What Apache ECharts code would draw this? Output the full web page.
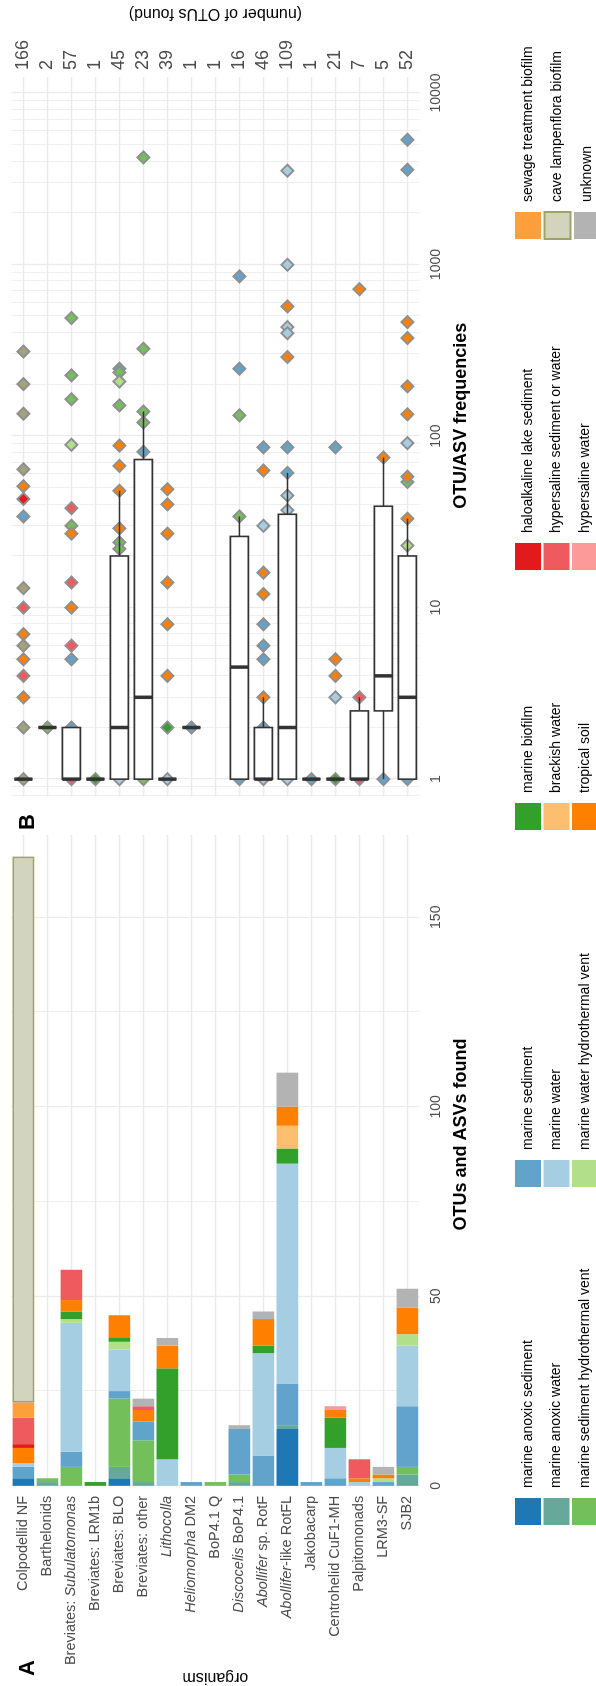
<!DOCTYPE html>
<html>
<head>
<meta charset="utf-8">
<script src="https://cdn.jsdelivr.net/npm/echarts@6/dist/echarts.min.js"></script>
<style>
  html, body { margin: 0; padding: 0; background: #fff; overflow: hidden; }
  #wrap { position: absolute; left: 0; top: 0; width: 596px; height: 1686px; overflow: hidden; }
  /* chart is laid out landscape, then turned a quarter to the left */
  #chart { position: absolute; left: 0; top: 0; width: 1686px; height: 596px;
           transform-origin: 0 0; transform: translate(0, 1686px) rotate(-90deg); }
</style>
</head>
<body>
<div id="wrap"><div id="chart"></div></div>
<script>
const organisms = [
  "Colpodellid NF", "Barthelonids", "Breviates: Subulatomonas", "Breviates: LRM1b",
  "Breviates: BLO", "Breviates: other", "Lithocolla", "Heliomorpha DM2", "BoP4.1 Q",
  "Discocelis BoP4.1", "Abollifer sp. RotF", "Abollifer-like RotFL", "Jakobacarp",
  "Centrohelid CuF1-MH", "Palpitomonads", "LRM3-SF", "SJB2"
];
const italicWords = ["Subulatomonas", "Lithocolla", "Heliomorpha", "Discocelis", "Abollifer"];
const otuLabels = ["166", "2", "57", "1", "45", "23", "39", "1", "1", "16", "46", "109", "1", "21", "7", "5", "52"];

const habitats = [
  "marine anoxic sediment", "marine anoxic water", "marine sediment hydrothermal vent",
  "marine sediment", "marine water", "marine water hydrothermal vent",
  "marine biofilm", "brackish water", "tropical soil",
  "haloalkaline lake sediment", "hypersaline sediment or water", "hypersaline water",
  "sewage treatment biofilm", "cave lampenflora biofilm", "unknown"
];
const habitatColors = [
  "#1f78b4", "#66a99a", "#73bf5b", "#62a3cb", "#a6cee3", "#b2df8a",
  "#33a02c", "#fdbf6f", "#ff7f00", "#e31a1c", "#ef5a5e", "#fb9a99",
  "#fd9f3b", "#d3d4bd", "#b3b3b3"
];

// OTUs per habitat, one value per organism (panel A)
const anoxicSediment   = [2, 0, 0, 0, 2, 0, 0, 0, 0, 0, 0, 15, 0, 0, 0, 0, 0];
const anoxicWater      = [0, 1, 0, 0, 3, 1, 0, 0, 0, 1, 0, 1, 0, 0, 0, 0, 3];
const sedimentVent     = [0, 1, 5, 0, 18, 11, 0, 0, 1, 2, 0, 0, 0, 0, 0, 0, 2];
const marineSediment   = [3, 0, 4, 0, 2, 5, 0, 1, 0, 12, 8, 11, 1, 2, 0, 1, 16];
const marineWater      = [1, 0, 34, 0, 11, 0, 7, 0, 0, 0, 27, 58, 0, 8, 1, 0, 16];
const waterVent        = [0, 0, 1, 0, 2, 0, 0, 0, 0, 0, 0, 0, 0, 0, 0, 1, 3];
const marineBiofilm    = [0, 0, 2, 1, 1, 0, 24, 0, 0, 0, 2, 4, 0, 8, 0, 0, 0];
const brackishWater    = [0, 0, 0, 0, 0, 0, 0, 0, 0, 0, 0, 6, 0, 0, 0, 0, 0];
const tropicalSoil     = [4, 0, 3, 0, 6, 3, 6, 0, 0, 0, 7, 5, 0, 2, 1, 1, 7];
const haloalkaline     = [1, 0, 0, 0, 0, 0, 0, 0, 0, 0, 0, 0, 0, 0, 0, 0, 0];
const hypersalineSed   = [7, 0, 8, 0, 0, 1, 0, 0, 0, 0, 0, 0, 0, 0, 5, 0, 0];
const hypersalineWater = [0, 0, 0, 0, 0, 0, 0, 0, 0, 0, 0, 0, 0, 1, 0, 0, 0];
const sewageBiofilm    = [4, 0, 0, 0, 0, 0, 0, 0, 0, 0, 0, 0, 0, 0, 0, 0, 0];
const caveBiofilm      = [144, 0, 0, 0, 0, 0, 0, 0, 0, 0, 0, 0, 0, 0, 0, 0, 0];
const unknownHabitat   = [0, 0, 0, 0, 0, 2, 2, 0, 0, 1, 2, 9, 0, 0, 0, 2, 5];
const habitatCounts = [anoxicSediment, anoxicWater, sedimentVent, marineSediment, marineWater,
  waterVent, marineBiofilm, brackishWater, tropicalSoil, haloalkaline, hypersalineSed,
  hypersalineWater, sewageBiofilm, caveBiofilm, unknownHabitat];

// OTU/ASV frequencies per organism (panel B) and the habitat index of each point
const freqValues = [
  [311, 201, 135, 64, 51, 43, 34, 13, 10, 7, 6, 5, 4, 3, 2, 1],
  [2],
  [488, 226, 164, 89, 38, 30, 27, 14, 10, 6, 5, 2, 1],
  [1],
  [247, 235, 208, 151, 88, 67, 48, 29, 24, 22, 2, 1],
  [4214, 323, 139, 120, 81, 1],
  [49, 40, 27, 14, 8, 4, 2, 1],
  [2],
  [],
  [853, 247, 132, 34, 1],
  [86, 63, 30, 16, 12, 8, 6, 5, 3, 2, 1],
  [3524, 997, 570, 432, 398, 289, 86, 61, 45, 37, 1],
  [1],
  [86, 5, 4, 3, 1],
  [719, 3, 1],
  [75, 1],
  [5337, 3571, 462, 373, 195, 134, 91, 58, 54, 33, 23, 1]
];
const freqHabitat = [
  [13, 13, 13, 13, 8, 9, 3, 13, 10, 8, 13, 8, 10, 8, 13, 13],
  [2],
  [2, 2, 2, 5, 10, 2, 8, 10, 8, 10, 3, 3, 10],
  [6],
  [1, 2, 5, 2, 8, 8, 8, 8, 2, 2, 3, 4],
  [2, 2, 2, 2, 3, 2],
  [8, 8, 8, 8, 8, 8, 6, 4],
  [3],
  [],
  [3, 3, 2, 2, 3],
  [3, 8, 4, 8, 8, 3, 3, 3, 8, 3, 4],
  [4, 4, 8, 4, 4, 8, 3, 3, 4, 4, 4],
  [3],
  [3, 8, 8, 4, 6],
  [8, 10, 10],
  [8, 3],
  [3, 3, 8, 8, 8, 8, 4, 8, 2, 8, 5, 3]
];
// box statistics: lower whisker, Q1, median, Q3, upper whisker
const boxStats = [
  [1, 1, 1, 1, 1], [2, 2, 2, 2, 2], [1, 1, 1, 2, 2], [1, 1, 1, 1, 1],
  [1, 1, 2, 20, 48], [1, 1, 3, 73, 139], [1, 1, 1, 1, 1], [2, 2, 2, 2, 2], null,
  [1, 1, 4.5, 26, 34], [1, 1, 1, 2, 3], [1, 1, 2, 35, 61], [1, 1, 1, 1, 1],
  [1, 1, 1, 1, 1], [1, 1, 1, 2.5, 3], [1, 2.5, 4, 39, 75], [1, 1, 3, 20, 33]
];

const valueMinor = [25, 75, 125];
const logMinor = [0.8, 0.9, 2, 3, 4, 5, 6, 7, 8, 9, 20, 30, 40, 50, 60, 70, 80, 90,
  200, 300, 400, 500, 600, 700, 800, 900, 2000, 3000, 4000, 5000, 6000, 7000, 8000, 9000];

const FONT = "Liberation Sans, Arial, Helvetica, sans-serif";
const GRID = "#ebebeb";
const TICK = "#4d4d4d";

const chart = echarts.init(document.getElementById("chart"), null, { width: 1686, height: 596 });

function organismLabel(name) {
  let s = name;
  italicWords.forEach(function (w) { s = s.replace(w, "{i|" + w + "}"); });
  return s;
}

function gridLines(xIdx, yIdx, xMinor) {
  const lines = organisms.map(function (o) { return { yAxis: o, lineStyle: { width: 1.3 } }; })
    .concat(xMinor.map(function (v) { return { xAxis: v, lineStyle: { width: 0.8 } }; }));
  return {
    type: "scatter", xAxisIndex: xIdx, yAxisIndex: yIdx, data: [], silent: true,
    markLine: {
      silent: true, symbol: "none", z: 1, animation: false,
      label: { show: false }, emphasis: { disabled: true },
      lineStyle: { color: GRID, type: "solid" },
      data: lines
    }
  };
}

const barSeries = habitats.map(function (h, k) {
  return {
    name: h, type: "bar", stack: "otu", xAxisIndex: 0, yAxisIndex: 0,
    barWidth: "90%", z: 2,
    itemStyle: k === 13
      ? { color: habitatColors[k], borderColor: "#9ea366", borderWidth: 1.5 }
      : { color: habitatColors[k] },
    data: habitatCounts[k].map(function (v) { return v === 0 ? "-" : v; })
  };
});

const pointSeries = habitats.map(function (h, k) {
  return {
    name: h, type: "scatter", xAxisIndex: 1, yAxisIndex: 1, z: 2,
    symbol: "diamond", symbolSize: 12,
    itemStyle: { color: k === 13 ? "#a3a37b" : habitatColors[k], borderColor: "#8f8f8f", borderWidth: 2, opacity: 1 },
    data: []
  };
});
freqValues.forEach(function (row, i) {
  row.forEach(function (v, j) { pointSeries[freqHabitat[i][j]].data.push([v, organisms[i]]); });
});

const boxData = [];
boxStats.forEach(function (b, i) { if (b) boxData.push([i].concat(b)); });

function renderBox(params, api) {
  const c = api.value(0);
  const lo = api.coord([api.value(1), c]);
  const q1 = api.coord([api.value(2), c]);
  const md = api.coord([api.value(3), c]);
  const q3 = api.coord([api.value(4), c]);
  const hi = api.coord([api.value(5), c]);
  const half = api.size([0, 1])[1] * 0.375;
  const y = md[1];
  const ink = "#333333";
  return {
    type: "group",
    children: [
      { type: "line", shape: { x1: q3[0], y1: y, x2: hi[0], y2: y }, style: { stroke: ink, lineWidth: 1.5 } },
      { type: "line", shape: { x1: lo[0], y1: y, x2: q1[0], y2: y }, style: { stroke: ink, lineWidth: 1.5 } },
      { type: "rect", shape: { x: q1[0], y: y - half, width: q3[0] - q1[0], height: 2 * half },
        style: { fill: "#ffffff", stroke: ink, lineWidth: 1.6 } },
      { type: "line", shape: { x1: md[0], y1: y - half, x2: md[0], y2: y + half }, style: { stroke: ink, lineWidth: 3.5 } }
    ]
  };
}

const legendColumns = [[0, 1, 2], [3, 4, 5], [6, 7, 8], [9, 10, 11], [12, 13, 14]];
const legendLeft = [161, 499, 856, 1116, 1446];

const option = {
  animation: false,
  backgroundColor: "#ffffff",
  textStyle: { fontFamily: FONT },
  title: [
    { text: "A", left: 10, top: 17, padding: 0, textStyle: { fontSize: 22, fontWeight: "bold", color: "#000", fontFamily: FONT } },
    { text: "B", left: 856, top: 17, padding: 0, textStyle: { fontSize: 22, fontWeight: "bold", color: "#000", fontFamily: FONT } }
  ],
  legend: legendColumns.map(function (col, n) {
    return {
      orient: "vertical", left: legendLeft[n], top: 515, height: 100, width: 330, padding: 0,
      itemWidth: 27, itemHeight: 26, itemGap: 2.5, icon: "rect", selectedMode: false,
      textStyle: { fontSize: 14, color: "#000", padding: [0, 0, 0, 5], fontFamily: FONT },
      data: col.map(function (k) { return habitats[k]; })
    };
  }),
  grid: [
    { left: 187, top: 11.4, width: 664, height: 408 },
    { left: 889.3, top: 11.4, width: 719.7, height: 408 }
  ],
  xAxis: [
    {
      gridIndex: 0, type: "value", min: 0, max: 171.7, interval: 50,
      axisLine: { show: false }, axisTick: { show: false },
      axisLabel: { fontSize: 14, color: TICK, margin: 10, showMaxLabel: false },
      splitLine: { show: true, showMaxLine: false, lineStyle: { color: GRID, width: 1.3 } },
      name: "OTUs and ASVs found", nameLocation: "middle", nameGap: 33,
      nameTextStyle: { fontSize: 18, fontWeight: "bold", color: "#000", padding: [0, 0, 0, 52] }
    },
    {
      gridIndex: 1, type: "log", logBase: 10, min: 0.79, max: 12400,
      axisLine: { show: false }, axisTick: { show: false },
      axisLabel: {
        fontSize: 14, color: TICK, margin: 10, showMinLabel: false, showMaxLabel: false,
        formatter: function (v) { return String(Math.round(v)); }
      },
      splitLine: { show: true, showMinLine: false, showMaxLine: false, lineStyle: { color: GRID, width: 1.3 } },
      name: "OTU/ASV frequencies", nameLocation: "middle", nameGap: 33,
      nameTextStyle: { fontSize: 18, fontWeight: "bold", color: "#000", padding: [0, 0, 0, 42] }
    }
  ],
  yAxis: [
    {
      gridIndex: 0, type: "category", data: organisms, inverse: true,
      axisLine: { show: false }, axisTick: { show: false }, splitLine: { show: false },
      axisLabel: {
        fontSize: 14.5, color: TICK, margin: 10, formatter: organismLabel,
        rich: { i: { fontSize: 14.5, color: TICK, fontStyle: "italic", fontFamily: FONT } }
      },
      name: "organism", nameLocation: "middle", nameGap: 161,
      nameTextStyle: { fontSize: 16, color: "#000" }
    },
    {
      gridIndex: 1, type: "category", data: organisms, inverse: true,
      axisLine: { show: false }, axisTick: { show: false }, splitLine: { show: false },
      axisLabel: { show: false }
    },
    {
      gridIndex: 1, type: "category", data: organisms, inverse: true, position: "right",
      axisLine: { show: false }, axisTick: { show: false }, splitLine: { show: false },
      axisLabel: { fontSize: 18, color: TICK, margin: 7, formatter: function (v, i) { return otuLabels[i]; } },
      name: "(number of OTUs found)", nameLocation: "middle", nameGap: 56,
      nameTextStyle: { fontSize: 16, color: "#000" }
    }
  ],
  series: [gridLines(0, 0, valueMinor), gridLines(1, 1, logMinor)]
    .concat(barSeries)
    .concat(pointSeries)
    .concat([{
      type: "custom", xAxisIndex: 1, yAxisIndex: 1, z: 3, silent: true,
      encode: { x: [1, 2, 3, 4, 5], y: 0 },
      renderItem: renderBox, data: boxData
    }])
};

chart.setOption(option);
</script>
</body>
</html>
